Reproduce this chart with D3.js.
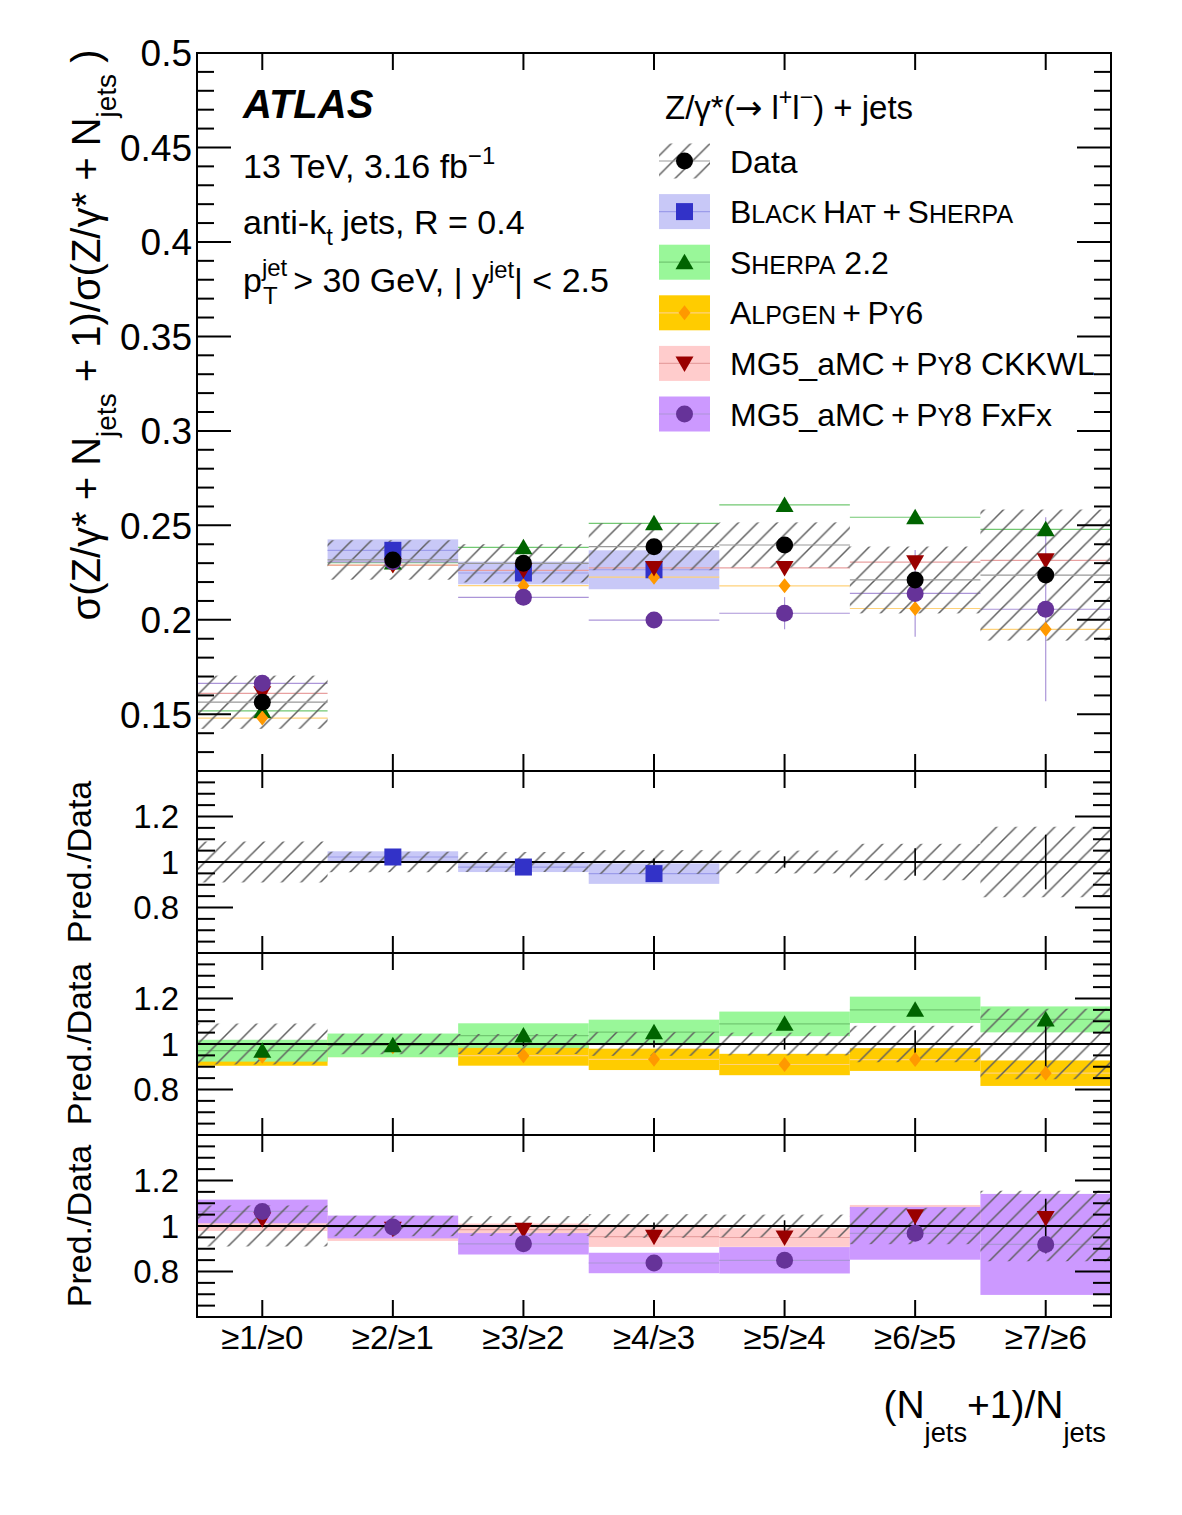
<!DOCTYPE html>
<html>
<head>
<meta charset="utf-8">
<script src="https://cdn.jsdelivr.net/npm/d3@7"></script>
<style>
body { margin: 0; background: #fff; }
text { font-family: "Liberation Sans", Arial, Helvetica, sans-serif; fill: #000; }
</style>
</head>
<body>
<div id="chart"></div>
<script>
// Bin labels, (N+1)/N jet multiplicity ratios
const bins = ["≥1/≥0", "≥2/≥1", "≥3/≥2", "≥4/≥3", "≥5/≥4", "≥6/≥5", "≥7/≥6"];

// Data: cross-section ratio, relative total uncertainty (hatched), relative stat error
const dataVals = [0.1564, 0.2317, 0.2299, 0.2387, 0.2396, 0.2211, 0.2237];
const dataSyst = [0.09, 0.045, 0.044, 0.052, 0.05, 0.08, 0.155];
const dataStat = [0.004, 0.006, 0.01, 0.015, 0.025, 0.06, 0.12];

// Predictions (top panel values) and half-width of their band in the ratio panels
const blackhat = [null, 0.2368, 0.2248, 0.2265, null, null, null];
const blackhatTopErr = [null, 0.0058, 0.006, 0.0103, null, null, null];
const blackhatErr = [null, 0.025, 0.022, 0.045, null, null, null];
const sherpa = [0.1518, 0.2303, 0.2384, 0.2511, 0.2608, 0.2543, 0.2479];
const sherpaErr = [0.048, 0.052, 0.054, 0.055, 0.054, 0.058, 0.057];
const alpgen = [0.1480, 0.2288, 0.2181, 0.2226, 0.2180, 0.2060, 0.1950];
const alpgenErr = [0.042, 0.045, 0.044, 0.047, 0.047, 0.05, 0.056];
const ckkwl = [0.1611, 0.2290, 0.2262, 0.2275, 0.2275, 0.2305, 0.2315];
const ckkwlErr = [0.052, 0.054, 0.027, 0.045, 0.041, 0.05, 0.05];
const fxfx = [0.1664, 0.2307, 0.2119, 0.1999, 0.2035, 0.2140, 0.2056];
const fxfxErr = [0.052, 0.05, 0.047, 0.045, 0.058, 0.116, 0.222];
const fxfxTopStat = [0, 0, 0, 0, 0.0085, 0.023, 0.0487];

// Axis tick labels
const mainTickLabels = ["0.15", "0.2", "0.25", "0.3", "0.35", "0.4", "0.45", "0.5"];
const ratioTickLabels = ["0.8", "1", "1.2"];

// Legend text (segments: [text, style]; "s" = small caps, "u" = superscript, "a" = symbol font)
const legendTitle = [["Z/γ*(", ""], ["→", "a"], [" l", ""], ["+", "u"], ["l", ""], ["−", "u"], [") + jets", ""]];
const legendLabels = [
    [["Data", ""]],
    [["B", ""], ["LACK", "s"], ["\u2009H", ""], ["AT", "s"], ["\u2009+\u2009", ""], ["S", ""], ["HERPA", "s"]],
    [["S", ""], ["HERPA", "s"], [" 2.2", ""]],
    [["A", ""], ["LPGEN", "s"], ["\u2009+\u2009", ""], ["P", ""], ["Y", "s"], ["6", ""]],
    [["MG5_aMC\u2009+\u2009", ""], ["P", ""], ["Y", "s"], ["8 CKKWL", ""]],
    [["MG5_aMC\u2009+\u2009", ""], ["P", ""], ["Y", "s"], ["8 FxFx", ""]]
];

// Styles for each prediction
const models = [
    {vals: blackhat, err: blackhatErr, shape: "square", marker: "#3232c8", band: "#c8c8f7", line: "#9c9cea", panel: 0},
    {vals: sherpa, err: sherpaErr, shape: "tri", marker: "#006400", band: "#99f799", line: "#72c872", panel: 1},
    {vals: alpgen, err: alpgenErr, shape: "diamond", marker: "#ff9900", band: "#ffcc00", line: "#ffd27a", panel: 1},
    {vals: ckkwl, err: ckkwlErr, shape: "tridown", marker: "#990000", band: "#ffcccc", line: "#e8a0a0", panel: 2},
    {vals: fxfx, err: fxfxErr, shape: "circle", marker: "#663399", band: "#cc99ff", line: "#ab95d8", panel: 2}
];
const bandOrder = [0, 2, 1, 3, 4];

const shapes = {
    circle: d3.symbol(d3.symbolCircle, Math.PI * 8.5 * 8.5)(),
    square: "M-8.5,-8.5h17v17h-17z",
    tri: "M0,-8.5L9,7L-9,7Z",
    tridown: "M0,8.5L9,-7L-9,-7Z",
    diamond: "M0,-7.5L6,0L0,7.5L-6,0Z"
};

const left = 197, right = 1111;
const x = d3.scaleLinear().domain([0, bins.length]).range([left, right]);
const yMain = d3.scaleLinear().domain([0.12, 0.5]).range([771, 53]);
const ratioTops = [771, 953, 1135];
const ratioH = 182;
const yRatio = ratioTops.map(t => d3.scaleLinear().domain([0.6, 1.4]).range([t + ratioH, t]));

const svg = d3.select("#chart").append("svg")
    .attr("width", 1182)
    .attr("height", 1515);

svg.append("rect").attr("width", 1182).attr("height", 1515).attr("fill", "#fff");

// hatch pattern for data uncertainty
const hs = 19.4;
svg.append("defs").append("pattern")
    .attr("id", "hatch")
    .attr("patternUnits", "userSpaceOnUse")
    .attr("width", hs).attr("height", hs)
    .append("path")
    .attr("d", `M0,${hs} L${hs},0 M${-hs / 4},${hs / 4} L${hs / 4},${-hs / 4} M${3 * hs / 4},${5 * hs / 4} L${5 * hs / 4},${3 * hs / 4}`)
    .attr("stroke", "#5e5e5e")
    .attr("stroke-width", 1.5);

const idx = d3.range(bins.length);

function drawMarker(g, shape, cx, cy, color) {
    g.append("path")
        .attr("d", shapes[shape])
        .attr("transform", `translate(${cx},${cy})`)
        .attr("fill", color);
}

function addRich(textSel, segs, size, subShift = 0.32) {
    let cur = 0;
    segs.forEach(([t, st]) => {
        let target = 0, fs = size;
        if (st === "u") { target = -size * 0.42; fs = size * 0.7; }
        if (st === "d") { target = size * subShift; fs = size * 0.7; }
        if (st === "s") { fs = size * 0.78; }
        const ts = textSel.append("tspan")
            .attr("dy", target - cur)
            .attr("font-size", fs)
            .text(t);
        if (st === "a") ts.style("font-family", "'DejaVu Sans'");
        cur = target;
    });
}

// ---------- Top panel ----------
const mainG = svg.append("g");

// BlackHat band
mainG.selectAll(".bhband")
    .data(idx.filter(i => blackhat[i] !== null))
    .enter().append("rect")
    .attr("x", i => x(i)).attr("width", i => x(i + 1) - x(i))
    .attr("y", i => yMain(blackhat[i] + blackhatTopErr[i]))
    .attr("height", i => yMain(blackhat[i] - blackhatTopErr[i]) - yMain(blackhat[i] + blackhatTopErr[i]))
    .attr("fill", models[0].band);

// horizontal bin-width lines for predictions
models.forEach(m => {
    idx.filter(i => m.vals[i] !== null).forEach(i => {
        mainG.append("line")
            .attr("x1", x(i)).attr("x2", x(i + 1))
            .attr("y1", yMain(m.vals[i])).attr("y2", yMain(m.vals[i]))
            .attr("stroke", m.line).attr("stroke-width", 1.2);
    });
});

// FxFx statistical error bars
idx.filter(i => fxfxTopStat[i] > 0).forEach(i => {
    mainG.append("line")
        .attr("x1", x(i + 0.5)).attr("x2", x(i + 0.5))
        .attr("y1", yMain(fxfx[i] + fxfxTopStat[i])).attr("y2", yMain(fxfx[i] - fxfxTopStat[i]))
        .attr("stroke", models[4].line).attr("stroke-width", 1.2);
});

// data hatched band
mainG.selectAll(".dhatch")
    .data(idx)
    .enter().append("rect")
    .attr("x", i => x(i)).attr("width", i => x(i + 1) - x(i))
    .attr("y", i => yMain(dataVals[i] * (1 + dataSyst[i])))
    .attr("height", i => yMain(dataVals[i] * (1 - dataSyst[i])) - yMain(dataVals[i] * (1 + dataSyst[i])))
    .attr("fill", "url(#hatch)");

idx.forEach(i => {
    mainG.append("line")
        .attr("x1", x(i)).attr("x2", x(i + 1))
        .attr("y1", yMain(dataVals[i])).attr("y2", yMain(dataVals[i]))
        .attr("stroke", "#999").attr("stroke-width", 1.2);
});

// markers
models.forEach(m => {
    idx.filter(i => m.vals[i] !== null).forEach(i => {
        drawMarker(mainG, m.shape, x(i + 0.5), yMain(m.vals[i]), m.marker);
    });
});
idx.forEach(i => drawMarker(mainG, "circle", x(i + 0.5), yMain(dataVals[i]), "#000"));

// ---------- Ratio panels ----------
ratioTops.forEach((t, p) => {
    const g = svg.append("g");
    const y = yRatio[p];
    const ms = bandOrder.map(k => models[k]).filter(m => m.panel === p);

    ms.forEach(m => {
        idx.filter(i => m.vals[i] !== null).forEach(i => {
            const r = m.vals[i] / dataVals[i];
            g.append("rect")
                .attr("x", x(i)).attr("width", x(i + 1) - x(i))
                .attr("y", y(r + m.err[i]))
                .attr("height", y(r - m.err[i]) - y(r + m.err[i]))
                .attr("fill", m.band);
            g.append("line")
                .attr("x1", x(i)).attr("x2", x(i + 1))
                .attr("y1", y(r)).attr("y2", y(r))
                .attr("stroke", m.line).attr("stroke-width", 1.2);
        });
    });

    g.selectAll(".rhatch")
        .data(idx)
        .enter().append("rect")
        .attr("x", i => x(i)).attr("width", i => x(i + 1) - x(i))
        .attr("y", i => y(1 + dataSyst[i]))
        .attr("height", i => y(1 - dataSyst[i]) - y(1 + dataSyst[i]))
        .attr("fill", "url(#hatch)");

    g.append("line")
        .attr("x1", left).attr("x2", right)
        .attr("y1", y(1)).attr("y2", y(1))
        .attr("stroke", "#000").attr("stroke-width", 2);

    idx.forEach(i => {
        g.append("line")
            .attr("x1", x(i + 0.5)).attr("x2", x(i + 0.5))
            .attr("y1", y(1 + dataStat[i])).attr("y2", y(1 - dataStat[i]))
            .attr("stroke", "#000").attr("stroke-width", 1.6);
    });

    ms.forEach(m => {
        idx.filter(i => m.vals[i] !== null).forEach(i => {
            drawMarker(g, m.shape, x(i + 0.5), y(m.vals[i] / dataVals[i]), m.marker);
        });
    });
});

// ---------- Frames and ticks ----------
const axes = svg.append("g")
    .attr("stroke", "#000")
    .attr("stroke-width", 2)
    .attr("fill", "none");

function yTickLines(scale, vals, len) {
    vals.forEach(v => {
        axes.append("line").attr("x1", left).attr("x2", left + len).attr("y1", scale(v)).attr("y2", scale(v));
        axes.append("line").attr("x1", right).attr("x2", right - len).attr("y1", scale(v)).attr("y2", scale(v));
    });
}
function xTickLines(y0, y1) {
    idx.forEach(i => {
        axes.append("line").attr("x1", x(i + 0.5)).attr("x2", x(i + 0.5)).attr("y1", y0).attr("y2", y0 + 17);
        axes.append("line").attr("x1", x(i + 0.5)).attr("x2", x(i + 0.5)).attr("y1", y1).attr("y2", y1 - 17);
    });
}

const mainMajor = mainTickLabels.map(Number);
const mainMinor = d3.range(13, 50).filter(k => k % 5 !== 0).map(k => k / 100);
yTickLines(yMain, mainMajor, 34);
yTickLines(yMain, mainMinor, 17);
xTickLines(yMain.range()[1], yMain.range()[0]);
axes.append("rect").attr("x", left).attr("y", yMain.range()[1])
    .attr("width", right - left).attr("height", yMain.range()[0] - yMain.range()[1]);

const ratioMajor = ratioTickLabels.map(Number);
const ratioMinor = d3.range(13, 28).filter(k => k % 4 !== 0).map(k => k * 0.05);
yRatio.forEach((y, p) => {
    yTickLines(y, ratioMajor, 36);
    yTickLines(y, ratioMinor, 18);
    xTickLines(ratioTops[p], ratioTops[p] + ratioH);
    axes.append("rect").attr("x", left).attr("y", ratioTops[p])
        .attr("width", right - left).attr("height", ratioH);
});

// ---------- Tick labels ----------
svg.selectAll(".mainlab")
    .data(mainTickLabels)
    .enter().append("text")
    .attr("x", 192).attr("y", d => yMain(+d))
    .attr("dy", "0.36em")
    .attr("text-anchor", "end")
    .attr("font-size", 37)
    .text(d => d);

yRatio.forEach(y => {
    svg.selectAll(null)
        .data(ratioTickLabels)
        .enter().append("text")
        .attr("x", 179).attr("y", d => y(+d))
        .attr("dy", "0.36em")
        .attr("text-anchor", "end")
        .attr("font-size", 33)
        .text(d => d);
});

svg.selectAll(".xlab")
    .data(bins)
    .enter().append("text")
    .attr("x", (d, i) => x(i + 0.5))
    .attr("y", 1349)
    .attr("text-anchor", "middle")
    .attr("font-size", 33)
    .text(d => d);

// ---------- Axis titles ----------
const yTitle = svg.append("text")
    .attr("transform", "translate(100,335) rotate(-90)")
    .attr("text-anchor", "middle")
    .attr("font-size", 40);
addRich(yTitle, [["σ(Z/γ* + N", ""], ["jets", "d"], [" + 1)/σ(Z/γ* + N", ""], ["jets", "d"], [" )", ""]], 40, 0.4);

ratioTops.forEach(t => {
    svg.append("text")
        .attr("transform", `translate(91,${t + ratioH / 2}) rotate(-90)`)
        .attr("text-anchor", "middle")
        .attr("font-size", 34)
        .text("Pred./Data");
});

const xTitle = svg.append("text")
    .attr("x", 1106).attr("y", 1418)
    .attr("text-anchor", "end")
    .attr("font-size", 39);
addRich(xTitle, [["(N", ""], ["jets", "d"], ["+1)/N", ""], ["jets", "d"]], 39, 0.62);

// ---------- ATLAS label ----------
svg.append("text")
    .attr("x", 243).attr("y", 118)
    .attr("font-size", 40)
    .attr("font-weight", "bold")
    .attr("font-style", "italic")
    .text("ATLAS");

const t1 = svg.append("text").attr("x", 243).attr("y", 178).attr("font-size", 34);
addRich(t1, [["13 TeV, 3.16 fb", ""], ["−1", "u"]], 34);

const t2 = svg.append("text").attr("x", 243).attr("y", 234).attr("font-size", 34);
addRich(t2, [["anti-k", ""], ["t", "d"], [" jets, R = 0.4", ""]], 34);

// p_T^jet with stacked indices
const pText = svg.append("text").attr("x", 243).attr("y", 292).attr("font-size", 34).text("p");
const pW = pText.node().getComputedTextLength();
const supJet = svg.append("text").attr("x", 243 + pW).attr("y", 292 - 16).attr("font-size", 24).text("jet");
svg.append("text").attr("x", 243 + pW + 1).attr("y", 292 + 12).attr("font-size", 24).text("T");
const jW = supJet.node().getComputedTextLength();
const t3 = svg.append("text").attr("x", 243 + pW + jW + 6).attr("y", 292).attr("font-size", 34);
addRich(t3, [[" > 30 GeV, | y", ""], ["jet", "u"], ["| < 2.5", ""]], 34);

// ---------- Legend ----------
const legend = svg.append("g");
const legTitle = legend.append("text").attr("x", 665).attr("y", 119).attr("font-size", 33);
addRich(legTitle, legendTitle, 33);

const legY0 = 161, legDy = 50.6;
legendLabels.forEach((segs, k) => {
    const cy = legY0 + k * legDy;
    if (k === 0) {
        legend.append("rect").attr("x", 659).attr("y", cy - 17.5).attr("width", 51).attr("height", 35)
            .attr("fill", "url(#hatch)");
        legend.append("line").attr("x1", 659).attr("x2", 710).attr("y1", cy).attr("y2", cy)
            .attr("stroke", "#999").attr("stroke-width", 1.2);
        drawMarker(legend, "circle", 684.5, cy, "#000");
    } else {
        const m = models[k - 1];
        legend.append("rect").attr("x", 659).attr("y", cy - 17.5).attr("width", 51).attr("height", 35)
            .attr("fill", m.band);
        legend.append("line").attr("x1", 659).attr("x2", 710).attr("y1", cy).attr("y2", cy)
            .attr("stroke", m.line).attr("stroke-width", 1.2);
        drawMarker(legend, m.shape, 684.5, cy, m.marker);
    }
    const tx = legend.append("text").attr("x", 730).attr("y", cy + 11.5).attr("font-size", 32);
    addRich(tx, segs, 32);
});
</script>
</body>
</html>
